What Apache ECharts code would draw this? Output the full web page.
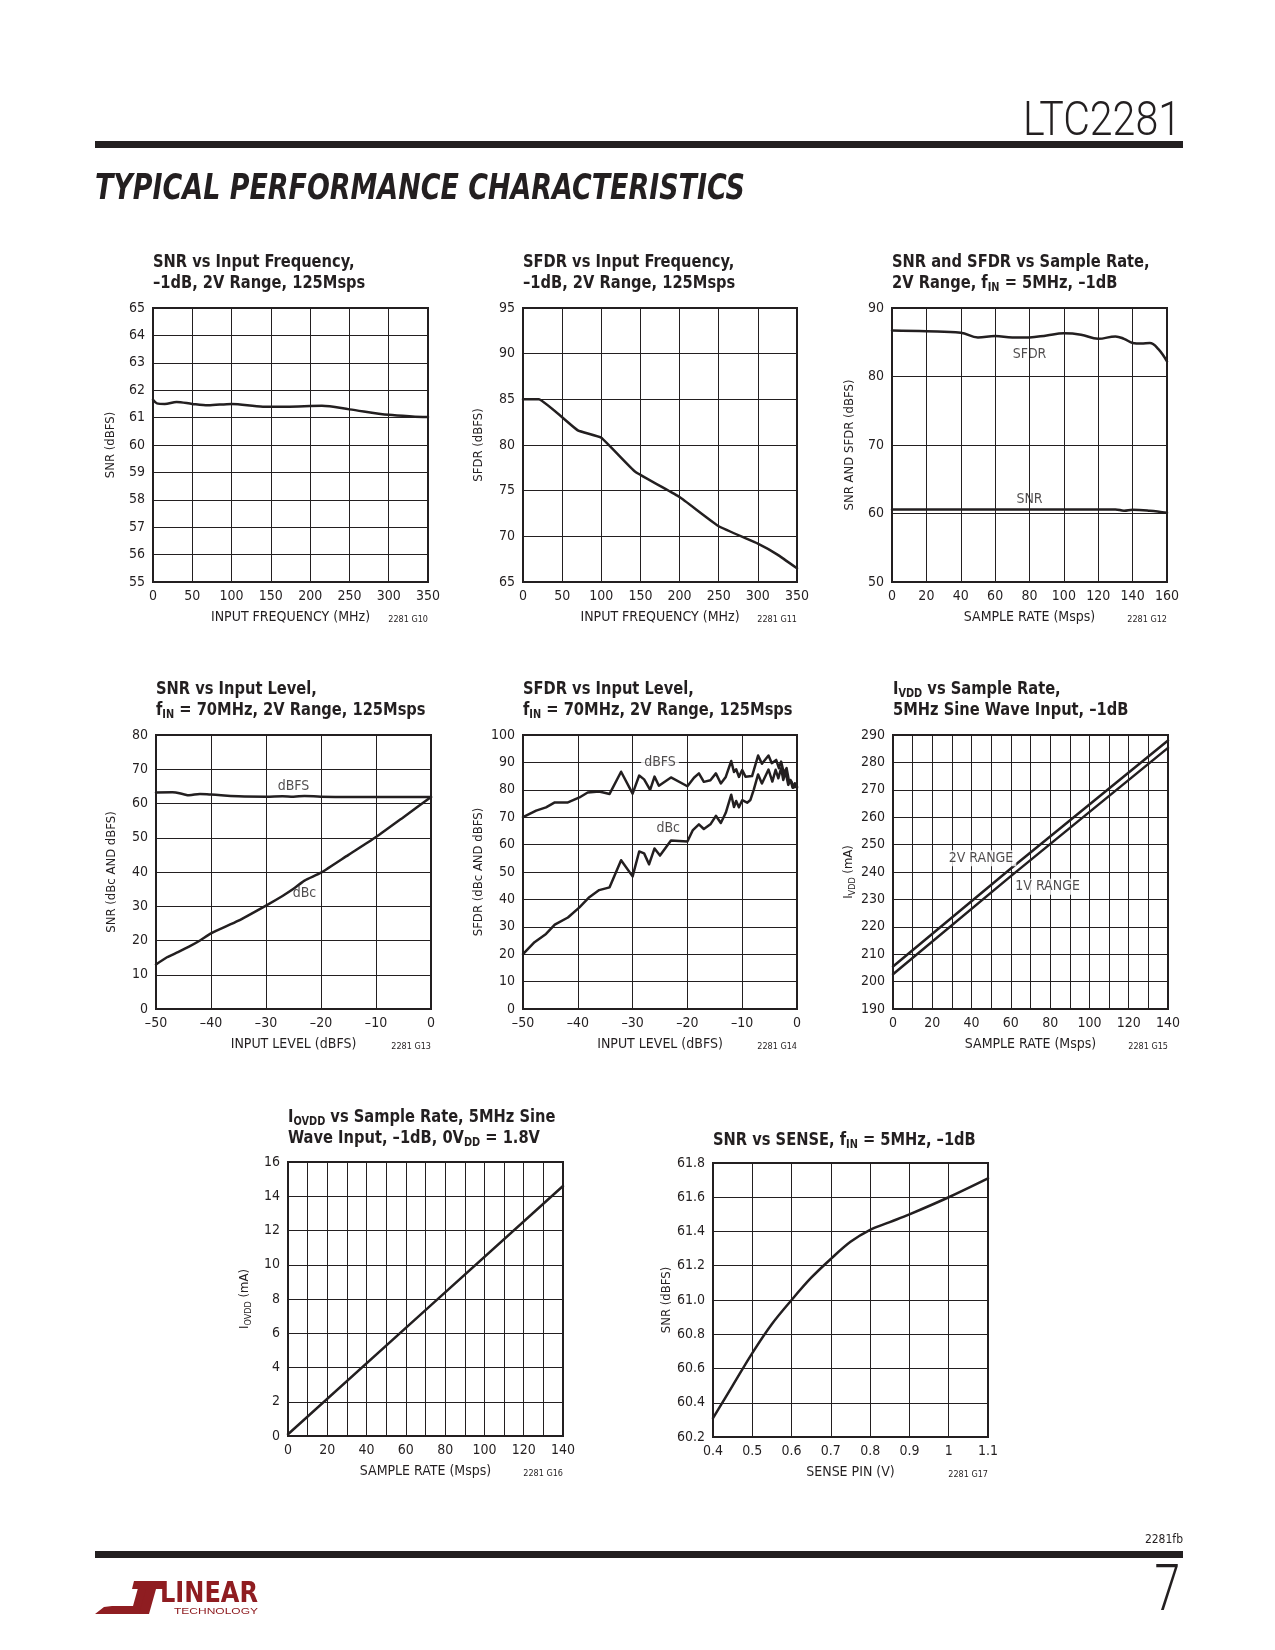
<!DOCTYPE html>
<html><head><meta charset="utf-8">
<script src="https://cdn.jsdelivr.net/npm/echarts@6/dist/echarts.min.js"></script>
<style>html,body{margin:0;padding:0;background:#fff}#c{width:1275px;height:1650px}</style>
</head><body><div id="c"></div>
<script>
// ---------- DATA ----------
// G10 SNR vs input frequency
const g10Freq = [0, 5, 15, 30, 50, 70, 100, 140, 170, 215, 250, 300, 330, 350];
const g10Snr  = [61.65, 61.52, 61.5, 61.57, 61.5, 61.45, 61.5, 61.4, 61.4, 61.43, 61.3, 61.1, 61.04, 61.02];
// G11 SFDR vs input frequency
const g11Freq = [0, 20, 70, 100, 143, 200, 250, 300, 325, 350];
const g11Sfdr = [85, 85, 81.6, 80.8, 77.1, 74.3, 71.1, 69.2, 68.0, 66.5];
// G12 SNR and SFDR vs sample rate
const g12RateSfdr = [0, 20, 40, 50, 60, 70, 80, 90, 100, 110, 120, 130, 135, 140, 145, 150, 155, 160];
const g12Sfdr     = [86.7, 86.6, 86.4, 85.7, 85.9, 85.7, 85.7, 86.0, 86.3, 86.1, 85.5, 85.85, 85.5, 84.9, 84.8, 84.9, 84.0, 82.2];
const g12RateSnr  = [0, 40, 80, 120, 130, 135, 140, 150, 160];
const g12Snr      = [60.6, 60.6, 60.6, 60.6, 60.6, 60.4, 60.55, 60.4, 60.1];
// G13 SNR vs input level
const g13LevelDbc  = [-50, -48, -46, -44, -42, -40, -35, -30, -27, -25, -23, -20, -15, -10, -5, 0];
const g13Dbc       = [13, 15.1, 16.6, 18.2, 20, 22.1, 25.8, 30.2, 33, 35.1, 37.5, 39.8, 45, 50.2, 56, 61.9];
const g13LevelDbfs = [-50, -47, -45, -44, -42, -40, -35, -30, -27, -25, -23, -20, -15, -10, 0];
const g13Dbfs      = [63.2, 63.3, 62.7, 62.4, 62.8, 62.6, 62.1, 62.0, 62.1, 62.0, 62.2, 62.0, 61.9, 61.9, 61.9];
// G14 SFDR vs input level
const g14LevelDbfs = [-50, -47.6, -45.8, -44.2, -41.8, -39.7, -38.2, -36.1, -34.2, -32.1, -30, -28.8, -27.9, -26.8, -26, -25.2, -23, -20, -18.8, -17.9, -17, -15.8, -14.8, -13.9, -13, -12, -11.5, -11.1, -10.6, -10, -9.4, -8.2, -7.1, -6.4, -5.2, -4.6, -3.8, -3.3, -2.9, -2.4, -1.9, -1.5, -1.0, -0.7, -0.4, 0];
const g14Dbfs      = [70, 72.4, 73.6, 75.4, 75.4, 77.2, 79.0, 79.4, 78.5, 86.6, 78.6, 85.2, 83.8, 80.0, 84.8, 81.5, 84.5, 81.3, 84.4, 86.0, 82.9, 83.5, 86.0, 82.3, 84.7, 90.5, 86.5, 87.5, 84.7, 87.2, 84.8, 85.0, 92.5, 89.5, 92.5, 89.7, 90.9, 87.9, 90.3, 86.1, 87.9, 83.6, 83.0, 80.8, 82.4, 80.8];
const g14LevelDbc  = [-50, -47.9, -45.8, -44.2, -41.8, -39.7, -37.9, -36.1, -34.2, -32.1, -30, -28.8, -27.9, -27, -26, -25, -23, -20, -19, -17.9, -17, -15.8, -14.8, -13.9, -13, -12, -11.5, -11.1, -10.6, -10, -9.1, -8.5, -7.9, -7.1, -6.4, -5.2, -4.5, -3.9, -3.4, -2.9, -2.5, -2.1, -1.6, -1.2, -0.8, 0];
const g14Dbc       = [20, 24.4, 27.4, 30.8, 33.4, 37.1, 40.8, 43.4, 44.4, 54.3, 48.4, 57.5, 56.8, 52.8, 58.6, 56.0, 61.5, 61.1, 65.3, 67.4, 65.7, 67.4, 70.5, 67.9, 71.6, 78.2, 73.7, 75.9, 73.6, 76.2, 75.3, 76.3, 80.0, 85.6, 82.3, 87.4, 83.0, 87.3, 84.2, 87.9, 83.6, 86.7, 81.8, 83.6, 80.8, 81.2];
// G15 IVDD vs sample rate
const g15Rate  = [0, 60, 140];
const g15Ivdd2 = [205.5, 241.3, 288.0];
const g15Ivdd1 = [202.7, 238.5, 285.3];
// G16 IOVDD vs sample rate
const g16Rate  = [0, 70, 140];
const g16Iovdd = [0.1, 7.35, 14.6];
// G17 SNR vs SENSE
const g17Sense = [0.4, 0.45, 0.5, 0.55, 0.6, 0.65, 0.7, 0.75, 0.8, 0.85, 0.9, 1.0, 1.1];
const g17Snr   = [60.31, 60.5, 60.69, 60.86, 61.0, 61.13, 61.24, 61.34, 61.41, 61.455, 61.5, 61.6, 61.71];

// ---------- STYLE / LAYOUT ----------
const FONT = "'Liberation Sans Narrow','DejaVu Sans Condensed','Liberation Sans',sans-serif";
const INK = '#231f20';
const RED = '#8f1d21';
const pairs = (xs, ys) => xs.map((x, i) => [x, ys[i]]);
const dash = v => String(v).replace('-', '\u2013');

const titleRich = {
  b: {fontFamily: FONT, fontWeight: 'bold', fontSize: 18, lineHeight: 21, fill: INK, color: INK},
  s: {fontFamily: FONT, fontWeight: 'bold', fontSize: 12, lineHeight: 9, verticalAlign: 'bottom', fill: INK, color: INK}
};
const nameRich = {
  n: {fontFamily: FONT, fontSize: 13, lineHeight: 16, color: INK},
  s: {fontFamily: FONT, fontSize: 9, lineHeight: 8, verticalAlign: 'bottom', color: INK}
};

const charts = [
  {box: [153, 308, 428, 582], title: '{b|SNR vs Input Frequency,}\n{b|\u20131dB, 2V Range, 125Msps}',
   x: [0, 350, 50], y: [55, 65, 1], xname: 'INPUT FREQUENCY (MHz)', yname: '{n|SNR (dBFS)}', ygap: 42, note: '2281 G10',
   series: [{d: pairs(g10Freq, g10Snr), smooth: 0.3}], labels: []},
  {box: [523, 308, 797, 582], title: '{b|SFDR vs Input Frequency,}\n{b|\u20131dB, 2V Range, 125Msps}',
   x: [0, 350, 50], y: [65, 95, 5], xname: 'INPUT FREQUENCY (MHz)', yname: '{n|SFDR (dBFS)}', ygap: 44, note: '2281 G11',
   series: [{d: pairs(g11Freq, g11Sfdr), smooth: 0.1}], labels: []},
  {box: [892, 308, 1167, 582], title: '{b|SNR and SFDR vs Sample Rate,}\n{b|2V Range, f}{s|IN}{b| = 5MHz, \u20131dB}',
   x: [0, 160, 20], y: [50, 90, 10], xname: 'SAMPLE RATE (Msps)', yname: '{n|SNR AND SFDR (dBFS)}', ygap: 42, note: '2281 G12',
   series: [{d: pairs(g12RateSfdr, g12Sfdr), smooth: 0.4}, {d: pairs(g12RateSnr, g12Snr), smooth: 0.4}],
   labels: [{name: 'SFDR', value: [80, 83.3]}, {name: 'SNR', value: [80, 62.0]}]},
  {box: [156, 735, 431, 1009], title: '{b|SNR vs Input Level,}\n{b|f}{s|IN}{b| = 70MHz, 2V Range, 125Msps}',
   x: [-50, 0, 10], y: [0, 80, 10], xname: 'INPUT LEVEL (dBFS)', yname: '{n|SNR (dBc AND dBFS)}', ygap: 44, note: '2281 G13',
   series: [{d: pairs(g13LevelDbfs, g13Dbfs), smooth: 0.4}, {d: pairs(g13LevelDbc, g13Dbc), smooth: 0.2}],
   labels: [{name: 'dBFS', value: [-25, 65]}, {name: 'dBc', value: [-23, 33.9]}]},
  {box: [523, 735, 797, 1009], title: '{b|SFDR vs Input Level,}\n{b|f}{s|IN}{b| = 70MHz, 2V Range, 125Msps}',
   x: [-50, 0, 10], y: [0, 100, 10], xname: 'INPUT LEVEL (dBFS)', yname: '{n|SFDR (dBc AND dBFS)}', ygap: 44, note: '2281 G14',
   series: [{d: pairs(g14LevelDbfs, g14Dbfs), smooth: false}, {d: pairs(g14LevelDbc, g14Dbc), smooth: false}],
   labels: [{name: 'dBFS', value: [-25, 90], bg: true}, {name: 'dBc', value: [-23.5, 65.8]}]},
  {box: [893, 735, 1168, 1009], title: '{b|I}{s|VDD}{b| vs Sample Rate,}\n{b|5MHz Sine Wave Input, \u20131dB}',
   x: [0, 140, 10, 20], y: [190, 290, 10], xname: 'SAMPLE RATE (Msps)', yname: '{n|I}{s|VDD}{n| (mA)}', ygap: 43, note: '2281 G15',
   series: [{d: pairs(g15Rate, g15Ivdd2), smooth: false}, {d: pairs(g15Rate, g15Ivdd1), smooth: false}],
   labels: [{name: '2V RANGE', value: [44.8, 245], bg: true}, {name: '1V RANGE', value: [78.7, 234.6], bg: true}]},
  {box: [288, 1162, 563, 1436], title: '{b|I}{s|OVDD}{b| vs Sample Rate, 5MHz Sine}\n{b|Wave Input, \u20131dB, 0V}{s|DD}{b| = 1.8V}',
   x: [0, 140, 10, 20], y: [0, 16, 2], xname: 'SAMPLE RATE (Msps)', yname: '{n|I}{s|OVDD}{n| (mA)}', ygap: 43, note: '2281 G16',
   series: [{d: pairs(g16Rate, g16Iovdd), smooth: false}], labels: []},
  {box: [713, 1163, 988, 1437], title: '{b|SNR vs SENSE, f}{s|IN}{b| = 5MHz, \u20131dB}',
   x: [0.4, 1.1, 0.1], y: [60.2, 61.8, 0.2], xname: 'SENSE PIN (V)', yname: '{n|SNR (dBFS)}', ygap: 43, note: '2281 G17',
   series: [{d: pairs(g17Sense, g17Snr), smooth: 0.35}], labels: [], xfix: 1, yfix: 1}
];
const titleCenters = [262, 262, 262, 689, 689, 689, 1117, 1140];

// ---------- BUILD ----------
const option = {animation: false, backgroundColor: '#fff', grid: [], xAxis: [], yAxis: [], series: [], graphic: []};

charts.forEach((c, i) => {
  const [l, t, r, b] = c.box;
  option.grid.push({left: l, top: t, width: r - l, height: b - t, show: true, borderColor: INK, borderWidth: 2, backgroundColor: 'transparent'});
  const xfmt = c.xfix ? (v => String(+(+v).toFixed(1))) : (c.x[3] ? (v => (Math.round(v) % c.x[3] === 0 ? dash(v) : '')) : dash);
  const yfmt = c.yfix ? (v => (+v).toFixed(1)) : dash;
  const common = {axisLine: {show: false}, axisTick: {show: false}, splitLine: {show: true, lineStyle: {color: INK, width: 1}}};
  option.xAxis.push(Object.assign({gridIndex: i, type: 'value', min: c.x[0], max: c.x[1], interval: c.x[2],
    axisLabel: {fontFamily: FONT, fontSize: 14, color: INK, margin: 7, formatter: xfmt, showMinLabel: true, showMaxLabel: true},
    name: c.xname, nameLocation: 'middle', nameGap: 28, nameTextStyle: {fontFamily: FONT, fontSize: 14, color: INK}}, common));
  option.yAxis.push(Object.assign({gridIndex: i, type: 'value', min: c.y[0], max: c.y[1], interval: c.y[2],
    axisLabel: {fontFamily: FONT, fontSize: 14, color: INK, margin: 8, formatter: yfmt, showMinLabel: true, showMaxLabel: true},
    name: c.yname, nameLocation: 'middle', nameGap: c.ygap - 8, nameTextStyle: {rich: nameRich}}, common));
  c.series.forEach(s => option.series.push({type: 'line', xAxisIndex: i, yAxisIndex: i, data: s.d, smooth: s.smooth,
    symbol: 'none', showSymbol: false, z: 3, lineStyle: {color: INK, width: 2.5, join: 'round', cap: 'round'}}));
  if (c.labels.length) {
    option.series.push({type: 'scatter', xAxisIndex: i, yAxisIndex: i, symbolSize: 1, z: 4,
      itemStyle: {color: 'rgba(0,0,0,0)'},
      data: c.labels.map(d => ({name: d.name, value: d.value,
        label: {show: true, position: 'inside', formatter: '{b}', fontFamily: FONT, fontSize: 14, color: INK,
          backgroundColor: d.bg ? '#fff' : 'transparent', padding: d.bg ? [1, 3] : 0}}))});
  }
  option.graphic.push({type: 'text', x: l, y: titleCenters[i] - 10.5, scaleX: 0.905,
    style: {text: c.title, rich: titleRich, align: 'left', verticalAlign: 'top', fill: INK}});
  option.graphic.push({type: 'text', x: r, y: b + 38, style: {text: c.note, font: '9px ' + FONT, fill: INK, align: 'right', verticalAlign: 'middle'}});
});

// measurement helper to fit header texts
const mctx = document.createElement('canvas').getContext('2d');
function fit(text, font, w) { mctx.font = font; return w / mctx.measureText(text).width; }

const hdrFont = '300 48px Roboto, "Liberation Sans", sans-serif';
const tpcFont = 'italic bold 36px "DejaVu Sans Condensed", "DejaVu Sans", sans-serif';
const linFont = 'bold 28px "DejaVu Sans Condensed", "DejaVu Sans", sans-serif';
const techFont = '9px "Liberation Sans", sans-serif';
const numFont = '300 64px Roboto, "Liberation Sans", sans-serif';

option.graphic.push(
  {type: 'text', x: 1181, y: 123, scaleX: fit('LTC2281', hdrFont, 158), style: {text: 'LTC2281', font: hdrFont, fill: INK, align: 'right', verticalAlign: 'middle'}},
  {type: 'rect', shape: {x: 95, y: 141, width: 1088, height: 7}, style: {fill: INK}},
  {type: 'text', x: 95, y: 190, scaleX: fit('TYPICAL PERFORMANCE CHARACTERISTICS', tpcFont, 650), style: {text: 'TYPICAL PERFORMANCE CHARACTERISTICS', font: tpcFont, fill: INK, align: 'left', verticalAlign: 'middle'}},
  {type: 'text', x: 1183, y: 1540, style: {text: '2281fb', font: '12px ' + FONT, fill: INK, align: 'right', verticalAlign: 'middle'}},
  {type: 'rect', shape: {x: 95, y: 1551, width: 1088, height: 7}, style: {fill: INK}},
  {type: 'text', x: 1180, y: 1594, scaleX: 0.72, style: {text: '7', font: numFont, fill: INK, align: 'right', verticalAlign: 'middle'}},
  // logo
  {type: 'polygon', shape: {points: [[95, 1614], [141, 1614], [148, 1588], [138, 1588], [133, 1606], [112, 1606], [104, 1607]]}, style: {fill: RED}},
  {type: 'polygon', shape: {points: [[134, 1581], [166, 1581], [164, 1589], [132, 1589]]}, style: {fill: RED}},
  {type: 'polygon', shape: {points: [[146, 1589], [156, 1589], [149, 1614], [139, 1614]]}, style: {fill: RED}},
  {type: 'text', x: 160, y: 1595, scaleX: fit('LINEAR', linFont, 98), style: {text: 'LINEAR', font: linFont, fill: RED, align: 'left', verticalAlign: 'middle'}},
  {type: 'text', x: 258, y: 1612, scaleX: fit('TECHNOLOGY', techFont, 84), style: {text: 'TECHNOLOGY', font: techFont, fill: RED, align: 'right', verticalAlign: 'middle'}}
);

const chart = echarts.init(document.getElementById('c'), null, {renderer: 'canvas'});
chart.setOption(option);
</script>
</body></html>
